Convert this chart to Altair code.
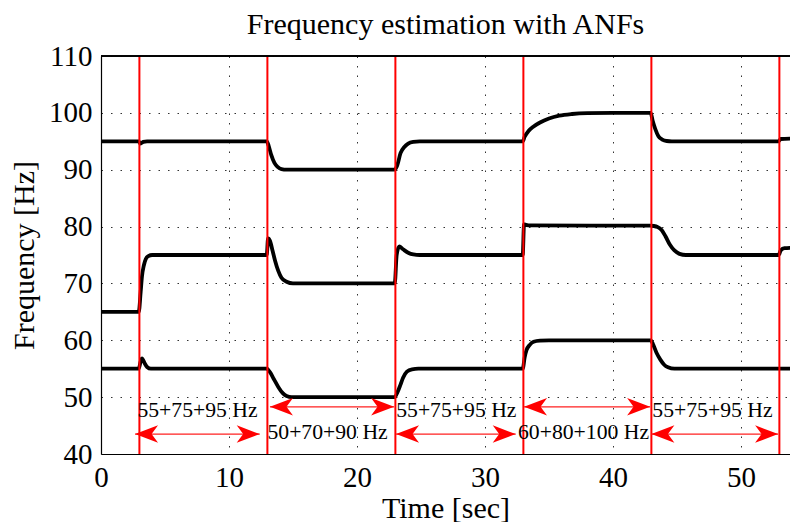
import altair as alt
import pandas as pd

# ---- estimated frequency tracks ----
top_t = [0, 2.95, 3.05, 3.3, 3.6, 12.95, 13.1, 13.3, 13.55, 13.8, 14.1, 14.5,
         22.95, 23.15, 23.4, 23.7, 24.0, 24.4, 24.9, 32.95, 33.1, 33.4, 33.8,
         34.3, 35.0, 35.8, 36.8, 38.0, 40.0, 42.95, 43.1, 43.3, 43.55, 43.85,
         44.2, 44.6, 52.95, 53.1, 54.6]
top_f = [95.0, 95.0, 94.6, 94.9, 95.0, 95.0, 94.2, 92.6, 91.2, 90.5, 90.1, 90.0,
         90.0, 90.8, 92.9, 94.0, 94.6, 94.9, 95.0, 95.0, 95.8, 96.8, 97.6,
         98.3, 99.0, 99.5, 99.8, 99.95, 100.0, 100.0, 98.6, 97.2, 95.9, 95.3,
         95.05, 95.0, 95.0, 95.4, 95.5]

mid_t = [0, 2.95, 3.1, 3.2, 3.35, 3.5, 3.7, 4.0, 4.5, 12.95, 13.05, 13.2, 13.4,
         13.6, 13.85, 14.1, 14.5, 15.0, 22.95, 23.1, 23.3, 23.6, 24.0, 24.4,
         24.9, 32.95, 33.05, 33.2, 33.6, 42.9, 43.2, 43.5, 43.8, 44.1, 44.45,
         44.8, 45.2, 45.7, 52.95, 53.1, 53.4, 54.6]
mid_f = [65.0, 65.0, 68.5, 71.2, 73.2, 74.3, 74.8, 75.0, 75.0, 75.0, 77.9, 77.5,
         75.8, 74.0, 72.2, 71.0, 70.3, 70.0, 70.0, 75.0, 76.5, 76.0, 75.4, 75.1,
         75.0, 75.0, 80.4, 80.3, 80.2, 80.15, 80.1, 79.9, 79.4, 78.3, 76.8,
         75.8, 75.2, 75.0, 75.0, 75.8, 76.2, 76.3]

bot_t = [0, 2.95, 3.1, 3.2, 3.4, 3.6, 3.9, 12.95, 13.2, 13.5, 13.85, 14.2, 14.5,
         14.9, 22.95, 23.15, 23.4, 23.6, 23.9, 24.3, 24.8, 32.95, 33.1, 33.25,
         33.5, 33.8, 34.3, 35.0, 42.95, 43.15, 43.4, 43.7, 44.0, 44.3, 44.8, 54.6]
bot_f = [55.0, 55.0, 56.3, 56.8, 56.0, 55.3, 55.0, 55.0, 54.4, 53.2, 51.8, 50.7,
         50.2, 50.0, 50.0, 50.8, 52.2, 53.4, 54.5, 54.9, 55.0, 55.0, 57.0, 58.3,
         59.2, 59.75, 59.95, 60.0, 60.0, 59.2, 57.8, 56.6, 55.7, 55.25, 55.0, 55.0]

# ---- frequency switch instants ----
switch_t = [3, 13, 23, 33, 43, 53]

# ---- double-headed arrows ----
arrow_start = [2.66, 13.2, 23.05, 33.05, 43.0]
arrow_end = [12.4, 22.9, 32.4, 42.9, 52.9]
arrow_f = [43.5, 48.3, 43.5, 48.3, 43.5]

# ---- annotations ----
label_text = ["55+75+95 Hz", "50+70+90 Hz", "55+75+95 Hz", "60+80+100 Hz", "55+75+95 Hz"]
label_t = [7.54, 17.7, 27.76, 37.7, 47.77]
label_f = [47.7, 43.9, 47.7, 43.9, 47.7]

x_ticks = [0, 10, 20, 30, 40, 50]
y_ticks = [40, 50, 60, 70, 80, 90, 100, 110]

FONT = "Liberation Serif"

tracks = pd.concat([
    pd.DataFrame({"t": top_t, "f": top_f, "s": "top"}),
    pd.DataFrame({"t": mid_t, "f": mid_f, "s": "mid"}),
    pd.DataFrame({"t": bot_t, "f": bot_f, "s": "bot"}),
])
switches = pd.DataFrame({"t": switch_t})
arrows = pd.DataFrame({"t0": arrow_start, "t1": arrow_end, "f": arrow_f})
heads = pd.concat([
    pd.DataFrame({"t": arrow_start, "f": arrow_f, "d": "left"}),
    pd.DataFrame({"t": arrow_end, "f": arrow_f, "d": "right"}),
])
labels = pd.DataFrame({"txt": label_text, "t": label_t, "f": label_f})

xs = alt.Scale(domain=[0, 53.83], nice=False, zero=False)
ys = alt.Scale(domain=[40, 110], nice=False, zero=False)

X = alt.X("t:Q", scale=xs, axis=alt.Axis(values=x_ticks, format="d", title="Time [sec]",
                                         labelFlush=False))
Y = alt.Y("f:Q", scale=ys, axis=alt.Axis(values=y_ticks, format="d", title="Frequency [Hz]"))

lines = alt.Chart(tracks).mark_line(color="black", strokeWidth=3.8, clip=True,
                                    interpolate="monotone").encode(
    x=X, y=Y, detail="s:N")

red = alt.Chart(switches).mark_rule(color="#ff0000", strokeWidth=2).encode(
    x=alt.X("t:Q", scale=xs))

shafts = alt.Chart(arrows).mark_rule(color="#ff2020", strokeWidth=1.2).encode(
    x=alt.X("t0:Q", scale=xs), x2="t1:Q", y=alt.Y("f:Q", scale=ys))

path_left = "M0,0 L1,-0.38 L0.72,0 L1,0.38 Z"
path_right = "M0,0 L-1,-0.38 L-0.72,0 L-1,0.38 Z"
arrowheads = alt.Chart(heads).mark_point(filled=True, color="#ff0000", opacity=1,
                                         size=2116, strokeWidth=0).encode(
    x=alt.X("t:Q", scale=xs), y=alt.Y("f:Q", scale=ys),
    shape=alt.Shape("d:N", scale=alt.Scale(domain=["left", "right"],
                                           range=[path_left, path_right]),
                    legend=None))

texts = alt.Chart(labels).mark_text(font=FONT, fontSize=21.7, color="black",
                                    align="center", baseline="middle").encode(
    x=alt.X("t:Q", scale=xs), y=alt.Y("f:Q", scale=ys), text="txt:N")

top_border = alt.Chart(switches).mark_rule(color="black", strokeWidth=1).encode(
    y=alt.datum(110, scale=ys))

chart = alt.layer(lines, red, shafts, arrowheads, texts, top_border).properties(
    width=689, height=398,
    autosize=alt.AutoSizeParams(type="none"),
    padding={"left": 93, "top": 48, "right": 0, "bottom": 70},
    title=alt.TitleParams("Frequency estimation with ANFs", font=FONT, fontSize=30,
                          fontWeight="normal", anchor="middle", offset=2,
                          frame="group", color="black"),
).configure_view(stroke=None).configure_axis(
    labelFont=FONT, labelFontSize=29, labelColor="black",
    titleFont=FONT, titleFontSize=30, titleFontWeight="normal", titleColor="black",
    domainColor="black", domainWidth=1.2,
    grid=True, gridColor="#333333", gridDash=[1.5, 8], gridWidth=1,
    ticks=False, labelPadding=9,
).configure_axisX(titlePadding=1).configure_axisY(titlePadding=9)

chart.save("out.html", embed_options={"renderer": "svg", "actions": False})
